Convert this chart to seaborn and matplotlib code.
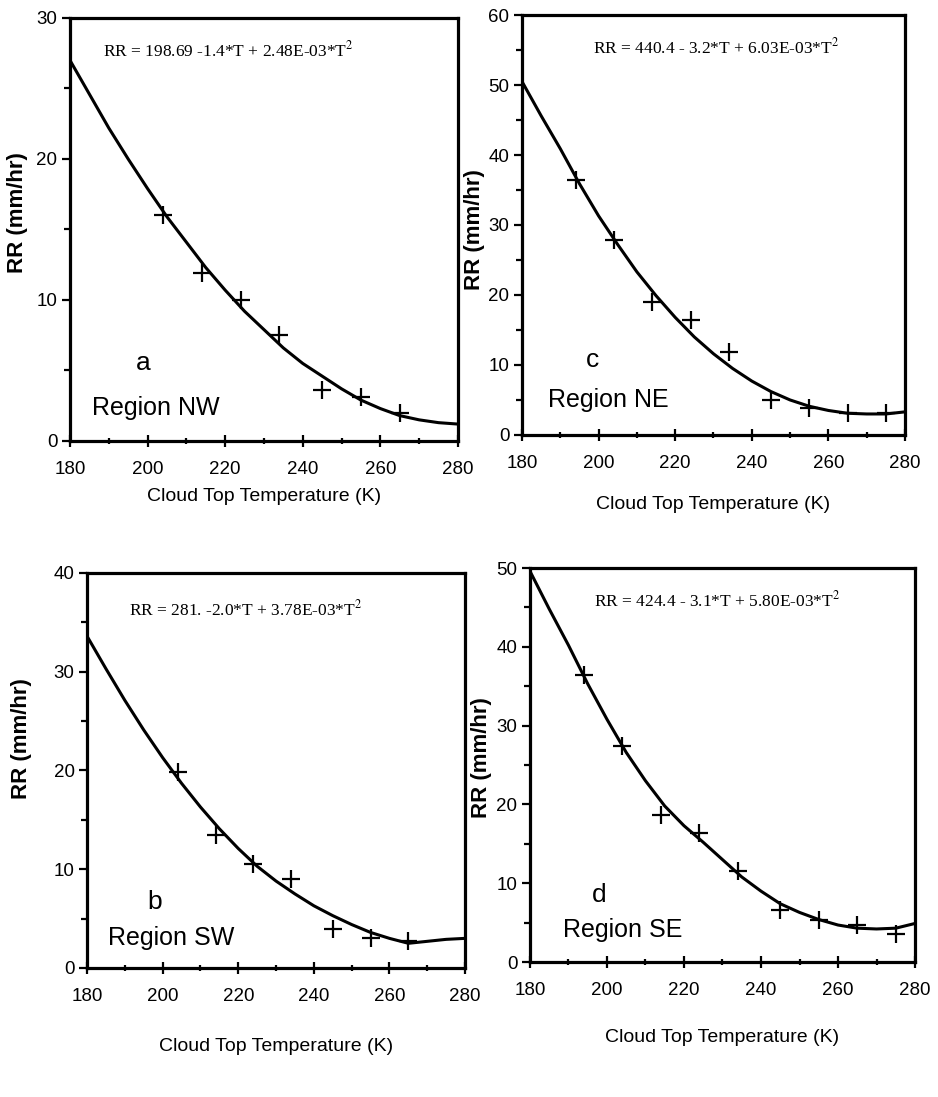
"""Rain rate vs cloud top temperature, four regions (scanned figure recreation)."""
import matplotlib
matplotlib.use("Agg")
import matplotlib.pyplot as plt
import seaborn as sns
import pandas as pd
from matplotlib.ticker import MultipleLocator

# fitted curves, every 5 K
T_CURVE = [180, 185, 190, 195, 200, 205, 210, 215, 220, 225, 230,
           235, 240, 245, 250, 255, 260, 265, 270, 275, 280]
NW_CURVE = [27.0, 24.6, 22.2, 20.0, 17.9, 15.9, 14.1, 12.3, 10.7, 9.2, 7.9,
            6.6, 5.5, 4.6, 3.7, 2.9, 2.3, 1.8, 1.5, 1.3, 1.2]
NE_CURVE = [50.5, 45.6, 40.9, 35.9, 31.3, 27.2, 23.3, 19.9, 16.8, 14.0, 11.6,
            9.5, 7.7, 6.2, 5.0, 4.1, 3.5, 3.1, 3.0, 3.0, 3.3]
SW_CURVE = [33.6, 30.3, 27.1, 24.1, 21.3, 18.7, 16.3, 14.1, 12.1, 10.3, 8.8,
            7.5, 6.3, 5.3, 4.4, 3.6, 3.0, 2.5, 2.7, 2.9, 3.0]
SE_CURVE = [49.6, 44.8, 40.2, 35.3, 30.8, 26.6, 23.0, 19.8, 17.3, 15.2, 13.0,
            10.8, 9.0, 7.4, 6.3, 5.4, 4.7, 4.3, 4.2, 4.3, 4.9]

# observed points (+)
NW_T = [204, 214, 224, 234, 245, 255, 265]
NW_RR = [16.0, 11.9, 10.0, 7.5, 3.6, 3.1, 2.0]
NE_T = [194, 204, 214, 224, 234, 245, 255, 265, 275]
NE_RR = [36.4, 27.8, 19.0, 16.4, 11.9, 5.0, 3.8, 3.2, 3.1]
SW_T = [204, 214, 224, 234, 245, 255, 265]
SW_RR = [19.8, 13.5, 10.5, 9.0, 3.9, 3.0, 2.7]
SE_T = [194, 204, 214, 224, 234, 245, 255, 265, 275]
SE_RR = [36.4, 27.4, 18.7, 16.4, 11.5, 6.6, 5.3, 4.7, 3.6]

EQUATIONS = {
    "NW": "RR = 198.69 -1.4*T + 2.48E-03*T$^2$",
    "NE": "RR = 440.4 - 3.2*T + 6.03E-03*T$^2$",
    "SW": "RR = 281. -2.0*T + 3.78E-03*T$^2$",
    "SE": "RR = 424.4 - 3.1*T + 5.80E-03*T$^2$",
}
LETTERS = {"NW": "a", "NE": "c", "SW": "b", "SE": "d"}
YMAX = {"NW": 30, "NE": 60, "SW": 40, "SE": 50}

SANS = ["Liberation Sans", "DejaVu Sans"]
SERIF = ["Liberation Serif", "DejaVu Serif"]


def draw(fig, rect, region, t_pts, rr_pts, curve, eq_xy, letter_xy, region_xy, xlab_y, ylab_xy):
    ax = fig.add_axes(rect)
    sns.lineplot(x=T_CURVE, y=curve, ax=ax, color="black", lw=2.2)
    pts = pd.DataFrame({"T": t_pts, "RR": rr_pts})
    sns.scatterplot(data=pts, x="T", y="RR", ax=ax, marker="+", s=150,
                    color="black", linewidth=1.6)
    ax.set_xlim(180, 280); ax.set_ylim(0, YMAX[region])
    ax.xaxis.set_major_locator(MultipleLocator(20)); ax.xaxis.set_minor_locator(MultipleLocator(10))
    ax.yaxis.set_major_locator(MultipleLocator(10)); ax.yaxis.set_minor_locator(MultipleLocator(5))
    ax.tick_params(axis="x", which="both", direction="inout", length=9, width=1.6, pad=10, labelsize=13.5)
    ax.tick_params(axis="x", which="minor", length=5)
    ax.tick_params(axis="y", which="both", direction="out", length=6, width=1.6, pad=3, labelsize=13.5)
    ax.tick_params(axis="y", which="minor", length=4)
    for lab in ax.get_xticklabels() + ax.get_yticklabels():
        lab.set_family(SANS)
    for sp in ax.spines.values():
        sp.set_linewidth(2.3); sp.set_visible(True); sp.set_color("black")
    ax.set_xlabel("")
    ax.set_ylabel("RR (mm/hr)", fontsize=16, fontweight="bold", family=SANS)
    ax.yaxis.set_label_coords(*ylab_xy)
    fig.text(rect[0] + rect[2] / 2, xlab_y, "Cloud Top Temperature (K)", ha="center", va="center",
             fontsize=14, family=SANS)
    ax.text(eq_xy[0], eq_xy[1], EQUATIONS[region], transform=ax.transAxes, family=SERIF,
            fontsize=12.5, va="center", ha="left")
    ax.text(letter_xy[0], letter_xy[1], LETTERS[region], transform=ax.transAxes,
            family=SANS, fontsize=19, ha="center", va="center")
    ax.text(region_xy[0], region_xy[1], f"Region {region}", transform=ax.transAxes,
            family=SANS, fontsize=18, ha="left", va="center")
    return ax


def main():
    sns.set_theme(style="ticks")
    plt.rcParams.update({"mathtext.fontset": "stix", "text.color": "black",
                         "axes.labelcolor": "black", "xtick.color": "black",
                         "ytick.color": "black"})
    fig = plt.figure(figsize=(9.38, 10.97), dpi=100)
    # rect, region, points, curve, equation, letter, region label, xlabel y, ylabel xy
    draw(fig, [0.0746, 0.598, 0.4136, 0.3856], "NW", NW_T, NW_RR, NW_CURVE,
         (0.085, 0.924), (0.188, 0.184), (0.057, 0.078), 0.547, (-0.108, 0.54))
    draw(fig, [0.5565, 0.6035, 0.4083, 0.3828], "NE", NE_T, NE_RR, NE_CURVE,
         (0.185, 0.924), (0.185, 0.179), (0.068, 0.083), 0.540, (-0.097, 0.49))
    draw(fig, [0.0928, 0.1176, 0.4030, 0.3601], "SW", SW_T, SW_RR, SW_CURVE,
         (0.112, 0.907), (0.18, 0.167), (0.055, 0.076), 0.046, (-0.145, 0.58))
    draw(fig, [0.565, 0.123, 0.4105, 0.3592], "SE", SE_T, SE_RR, SE_CURVE,
         (0.165, 0.918), (0.18, 0.170), (0.085, 0.081), 0.054, (-0.099, 0.52))
    fig.savefig("out.png", dpi=100, facecolor="white")
    plt.close(fig)


if __name__ == "__main__":
    main()
